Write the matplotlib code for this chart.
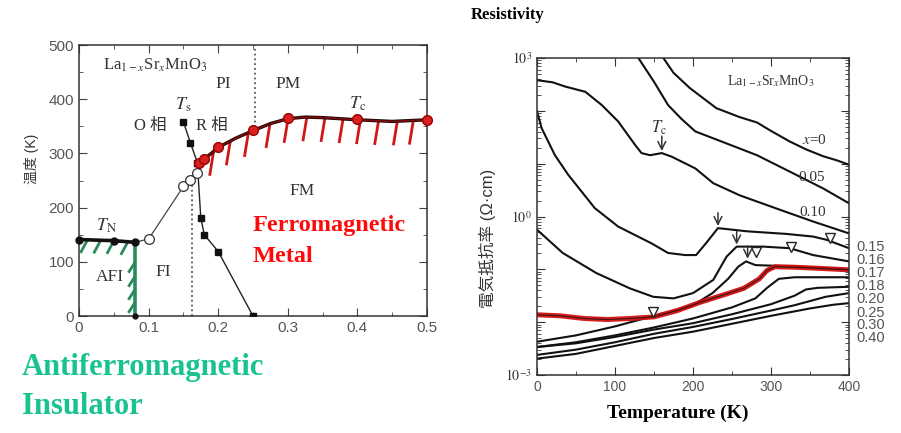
import numpy as np
import matplotlib
matplotlib.use('Agg')
import matplotlib.pyplot as plt
import matplotlib.transforms as mtransforms
from matplotlib.ticker import (MultipleLocator, FixedLocator, FixedFormatter, LogLocator,
                               NullFormatter, FuncFormatter)

plt.rcParams['font.family'] = ['Liberation Sans', 'Noto Sans CJK JP', 'DejaVu Sans']
plt.rcParams['mathtext.fontset'] = 'stix'

# ---------------- Phase diagram (left) ----------------
tn_x = [0.0, 0.05, 0.08]
tn_T = [141, 139, 136]
fi_x = [0.10, 0.15, 0.16, 0.17]
fi_T = [142, 239, 251, 263]
ts_x = [0.15, 0.16, 0.17, 0.175, 0.18, 0.20, 0.25]
ts_T = [358, 320, 283, 181, 150, 119, 0]
tc_x = [0.172, 0.18, 0.20, 0.25, 0.30, 0.40, 0.50]
tc_T = [283, 289, 312, 343, 366, 363, 362]
tc_curve_x = [0.172, 0.18, 0.19, 0.20, 0.225, 0.25, 0.275, 0.30, 0.325, 0.35, 0.40, 0.45, 0.50]
tc_curve_T = [283, 290, 300, 311, 328, 342, 355, 364, 367, 366, 362, 359, 362]
afi_x = 0.08
red_hatch_x = [0.193, 0.217, 0.243, 0.274, 0.300, 0.327, 0.353, 0.379, 0.404, 0.430, 0.457, 0.480]
green_hatch_x = [0.011, 0.030, 0.049, 0.069]
green_hatch_T = [24, 48, 72, 98]
dotted_low_x, dotted_low_top = 0.163, 262
dotted_high_x, dotted_high_bottom = 0.253, 340

# ---------------- Resistivity (right), log10(rho) ----------------
T_x0 = [162, 175, 196, 230, 260, 282, 300, 324, 345, 367, 385, 400]
r_x0 = [3.0, 2.72, 2.43, 2.05, 1.88, 1.78, 1.62, 1.42, 1.27, 1.14, 1.06, 0.98]
T_x05 = [130, 150, 168, 185, 203, 240, 282, 324, 367, 400]
r_x05 = [3.0, 2.55, 2.11, 1.85, 1.61, 1.40, 1.16, 0.85, 0.53, 0.25]
T_x10 = [0, 20, 36, 62, 83, 104, 126, 134, 145, 160, 173, 203, 226, 260, 311, 354, 400]
r_x10 = [2.58, 2.54, 2.46, 2.36, 2.11, 1.80, 1.35, 1.20, 1.16, 1.20, 1.13, 0.91, 0.63, 0.40, 0.13, -0.095, -0.32]
T_x15 = [0, 6, 23, 40, 74, 104, 147, 168, 190, 204, 217, 232, 269, 320, 354, 371, 400]
r_x15 = [1.99, 1.67, 1.16, 0.79, 0.16, -0.19, -0.51, -0.69, -0.73, -0.73, -0.50, -0.22, -0.28, -0.33, -0.38, -0.44, -0.60]
T_x16 = [0, 33, 76, 119, 149, 175, 200, 226, 243, 256, 290, 324, 354, 400]
r_x16 = [-0.25, -0.69, -1.07, -1.36, -1.52, -1.55, -1.45, -1.20, -0.76, -0.57, -0.57, -0.60, -0.73, -0.85]
T_x17 = [0, 50, 100, 150, 200, 225, 245, 258, 268, 280, 300, 350, 400]
r_x17 = [-2.37, -2.25, -2.08, -1.88, -1.68, -1.45, -1.18, -0.95, -0.85, -0.92, -0.93, -0.96, -1.00]
T_x18 = [0, 30, 60, 90, 120, 150, 180, 210, 240, 265, 285, 295, 305, 330, 360, 400]
r_x18 = [-1.86, -1.88, -1.93, -1.95, -1.93, -1.90, -1.78, -1.62, -1.48, -1.36, -1.18, -1.02, -0.95, -0.96, -0.98, -1.01]
T_x20 = [0, 50, 100, 150, 200, 250, 280, 295, 310, 330, 360, 400]
r_x20 = [-2.47, -2.38, -2.25, -2.10, -1.93, -1.72, -1.55, -1.35, -1.18, -1.15, -1.15, -1.15]
T_x25 = [0, 50, 100, 150, 200, 250, 300, 330, 345, 360, 400]
r_x25 = [-2.47, -2.40, -2.28, -2.14, -2.02, -1.85, -1.66, -1.50, -1.38, -1.35, -1.33]
T_x30 = [0, 50, 100, 150, 200, 250, 300, 330, 350, 370, 400]
r_x30 = [-2.62, -2.52, -2.38, -2.22, -2.09, -1.94, -1.78, -1.68, -1.60, -1.52, -1.45]
T_x40 = [0, 50, 100, 150, 200, 250, 300, 350, 380, 400]
r_x40 = [-2.69, -2.60, -2.45, -2.30, -2.18, -2.03, -1.88, -1.74, -1.67, -1.64]

arrow_T = [160, 232, 256, 270]
arrow_tail = [1.52, 0.07, -0.28, -0.56]
arrow_tip = [1.24, -0.18, -0.53, -0.80]
tri_T = [149, 281, 326, 376]
tri_r = [-1.80, -0.68, -0.57, -0.41]

side_labels = ['0.15', '0.16', '0.17', '0.18', '0.20', '0.25', '0.30', '0.40']
side_label_r = [-0.57, -0.82, -1.06, -1.31, -1.56, -1.82, -2.06, -2.30]

fig = plt.figure(figsize=(9.01, 4.33), dpi=100)
W, H = 901, 433
ax1 = fig.add_axes([79 / W, 1 - 316 / H, 348 / W, 271 / H])
ax2 = fig.add_axes([537 / W, 1 - 375 / H, 312 / W, 317 / H])

# ---- left panel ----
green = '#2a8a5c'
red = '#d01818'
ax1.set_xlim(0, 0.5)
ax1.set_ylim(0, 500)
ax1.xaxis.set_major_locator(MultipleLocator(0.1))
ax1.xaxis.set_minor_locator(MultipleLocator(0.05))
ax1.yaxis.set_major_locator(MultipleLocator(100))
ax1.yaxis.set_minor_locator(MultipleLocator(50))
ax1.xaxis.set_major_formatter(FuncFormatter(lambda v, p: '0' if abs(v) < 1e-9 else f'{v:.1f}'))
ax1.tick_params(which='both', direction='in', top=True, right=True, colors='#444',
                labelcolor='#555', labelsize=11)
ax1.tick_params(which='major', length=6)
ax1.tick_params(which='minor', length=3)
for s in ax1.spines.values():
    s.set_color('#333')
    s.set_linewidth(1.1)

ax1.plot([dotted_low_x, dotted_low_x], [0, dotted_low_top], ls=':', color='#555', lw=1.3)
ax1.plot([dotted_high_x, dotted_high_x], [dotted_high_bottom, 500], ls=':', color='#555', lw=1.3)

ax1.plot(ts_x, ts_T, '-', color='#222', lw=1.0, zorder=3)
ax1.plot(ts_x, ts_T, 's', color='#111', ms=5, zorder=4)

ax1.plot([tn_x[-1]] + fi_x + [tc_x[0]], [tn_T[-1]] + fi_T + [tc_T[0]], '-', color='#444', lw=0.9, zorder=3)
ax1.plot(fi_x, fi_T, 'o', mfc='white', mec='#333', ms=7, mew=0.9, zorder=5)

# green AFI boundary and hatches
ax1.plot([afi_x, afi_x], [0, tn_T[-1]], color=green, lw=2.6, zorder=3)
for T in green_hatch_T:
    ax1.plot([afi_x, afi_x - 0.008], [T, T - 16], color=green, lw=2, zorder=3)
for x in green_hatch_x:
    y = np.interp(x, tn_x, tn_T)
    ax1.plot([x, x - 0.008], [y - 3, y - 22], color=green, lw=2, zorder=3)
ax1.plot(tn_x, tn_T, '-', color='#111', lw=2.6, zorder=4)
ax1.plot(tn_x, tn_T, 'o', color='#111', ms=5, zorder=5, clip_on=False)
ax1.plot([afi_x], [0], 'o', color='#111', ms=3.5, clip_on=False, zorder=5)

# red Tc curve with hatches
for x in red_hatch_x:
    y = np.interp(x, tc_curve_x, tc_curve_T)
    ax1.plot([x, x - 0.005], [y - 3, y - 42], color=red, lw=2, zorder=3)
ax1.plot(tc_curve_x, tc_curve_T, '-', color='#1a0505', lw=2.4, zorder=4)
ax1.plot(tc_curve_x, tc_curve_T, '-', color='#c01010', lw=1.2, alpha=0.6, zorder=4)
ax1.plot(tc_x, tc_T, 'o', color='#d82020', mec='#900', ms=7, zorder=5, clip_on=False)

serif = ['Liberation Serif', 'Noto Sans CJK JP', 'DejaVu Sans']
ax1.text(0.034, 462, r'La$_{1-x}$Sr$_x$MnO$_3$', fontsize=12, color='#333', family=serif, va='center')
ax1.text(0.207, 428, 'PI', fontsize=12.5, color='#333', family=serif, ha='center', va='center')
ax1.text(0.30, 428, 'PM', fontsize=12.5, color='#333', family=serif, ha='center', va='center')
ax1.text(0.40, 392, r'$T_{\rm c}$', fontsize=13, color='#333', ha='center', va='center')
ax1.text(0.149, 390, r'$T_{\rm s}$', fontsize=13, color='#333', ha='center', va='center')
ax1.text(0.102, 350, 'O 相', fontsize=12, color='#333', family=serif, ha='center', va='center')
ax1.text(0.191, 350, 'R 相', fontsize=12, color='#333', family=serif, ha='center', va='center')
ax1.text(0.32, 230, 'FM', fontsize=12.5, color='#333', family=serif, ha='center', va='center')
ax1.text(0.04, 166, r'$T_{\rm N}$', fontsize=13, color='#333', ha='center', va='center')
ax1.text(0.045, 72, 'AFI', fontsize=12.5, color='#333', family=serif, ha='center', va='center')
ax1.text(0.121, 81, 'FI', fontsize=12.5, color='#333', family=serif, ha='center', va='center')
ax1.set_ylabel('温度 (K)', fontsize=10, color='#333')
ax1.yaxis.set_label_coords(-0.115, 0.58)

# ---- right panel ----
ax2.set_yscale('log')
ax2.set_xlim(0, 400)
ax2.set_ylim(1e-3, 1e3)
ax2.xaxis.set_major_locator(MultipleLocator(100))
ax2.xaxis.set_minor_locator(MultipleLocator(50))
ax2.yaxis.set_major_locator(FixedLocator(10.0 ** np.arange(-3, 4)))
ax2.yaxis.set_major_formatter(FixedFormatter(['$10^{-3}$', '', '', '$10^{0}$', '', '', '$10^{3}$']))
ax2.yaxis.set_minor_locator(LogLocator(base=10, subs=np.arange(2, 10), numticks=20))
ax2.yaxis.set_minor_formatter(NullFormatter())
ax2.tick_params(which='both', direction='in', top=True, right=True, colors='#333')
ax2.tick_params(axis='x', labelsize=10, labelcolor='#555')
ax2.tick_params(axis='y', labelsize=10, labelcolor='#333')
ax2.tick_params(which='major', length=6)
ax2.tick_params(which='minor', length=3)
for s in ax2.spines.values():
    s.set_color('#333')
    s.set_linewidth(1.1)

black_curves = [(T_x0, r_x0), (T_x05, r_x05), (T_x10, r_x10), (T_x15, r_x15), (T_x16, r_x16),
                (T_x17, r_x17), (T_x20, r_x20), (T_x25, r_x25), (T_x30, r_x30), (T_x40, r_x40)]
for T, r in black_curves:
    ax2.plot(T, 10.0 ** np.array(r), color='#111', lw=1.5)
ax2.plot(T_x18, 10.0 ** np.array(r_x18), color='#d41010', lw=3.6, alpha=0.95, solid_capstyle='round')
ax2.plot(T_x18, 10.0 ** np.array(r_x18), color='#111', lw=0.9, alpha=0.7)

for T, a, b in zip(arrow_T, arrow_tail, arrow_tip):
    ax2.annotate('', xy=(T, 10.0 ** b), xytext=(T, 10.0 ** a),
                 arrowprops=dict(arrowstyle='->', color='#333', lw=1.1, mutation_scale=14,
                                 shrinkA=0, shrinkB=0))
ax2.plot(tri_T, 10.0 ** np.array(tri_r), 'v', mfc='white', mec='#222', ms=6.5, mew=1.0)

ax2.text(157, 10 ** 1.68, r'$T_{\rm c}$', fontsize=12, color='#333', ha='center', va='center')
ax2.text(300, 10 ** 2.56, r'La$_{1-x}$Sr$_x$MnO$_3$', fontsize=10, color='#333', family=serif,
         ha='center', va='center')
ax2.text(356, 10 ** 1.45, r'$x$=0', fontsize=11, color='#333', family=serif, ha='center', va='center')
ax2.text(352, 10 ** 0.73, '0.05', fontsize=11, color='#333', family=serif, ha='center', va='center')
ax2.text(354, 10 ** 0.08, '0.10', fontsize=11, color='#333', family=serif, ha='center', va='center')
trans = mtransforms.blended_transform_factory(ax2.transAxes, ax2.transData)
for lab, r in zip(side_labels, side_label_r):
    ax2.text(1.025, 10.0 ** r, lab, transform=trans, fontsize=10.5, color='#555', va='center', ha='left')
ax2.set_ylabel('電気抵抗率 (Ω·cm)', fontsize=12, color='#333')
ax2.yaxis.set_label_coords(-0.13, 0.43)

# ---- figure texts ----
fig.text(508 / W, 1 - 15 / H, 'Resistivity', ha='center', va='center', fontsize=12,
         fontweight='bold', family='Liberation Serif')
fig.text(678 / W, 1 - 413 / H, 'Temperature (K)', ha='center', va='center', fontsize=14,
         fontweight='bold', family='Liberation Serif')
fig.text(253 / W, 1 - 226 / H, 'Ferromagnetic', ha='left', va='center', fontsize=17.5,
         fontweight='bold', family='Liberation Serif', color='#ff0a0a')
fig.text(253 / W, 1 - 256 / H, 'Metal', ha='left', va='center', fontsize=17.5,
         fontweight='bold', family='Liberation Serif', color='#ff0a0a')
fig.text(22 / W, 1 - 368 / H, 'Antiferromagnetic', ha='left', va='center', fontsize=22,
         fontweight='bold', family='Liberation Serif', color='#19c38f')
fig.text(22 / W, 1 - 406 / H, 'Insulator', ha='left', va='center', fontsize=22,
         fontweight='bold', family='Liberation Serif', color='#19c38f')

fig.savefig('out.png', dpi=100)
